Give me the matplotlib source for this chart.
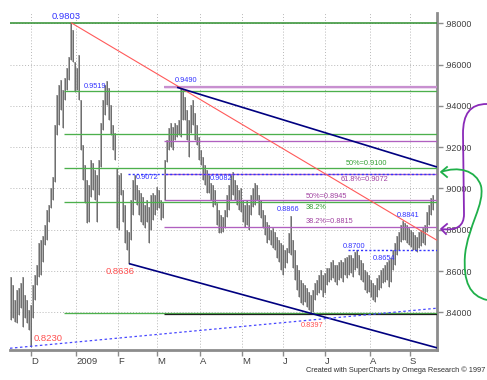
import matplotlib
matplotlib.use('Agg')
import matplotlib.pyplot as plt
from matplotlib.path import Path
from matplotlib.patches import PathPatch
from matplotlib.lines import Line2D
import numpy as np

plt.rcParams['font.family'] = ['Liberation Sans', 'DejaVu Sans']

# ---------------- data (daily bars, Nov 2008 - Sep 2009) ----------------
highs = [0.8571, 0.8532, 0.8460, 0.8508, 0.8518, 0.8542, 0.8571, 0.8484, 0.8460, 0.8411,
         0.8436, 0.8532, 0.8581, 0.8629, 0.8736, 0.8750, 0.8770, 0.8823, 0.8896, 0.8920,
         0.9002, 0.9056, 0.9307, 0.9453, 0.9501, 0.9525, 0.9477, 0.9535, 0.9584, 0.9637,
         0.9803, 0.9768, 0.9613, 0.9584, 0.9646, 0.9429, 0.9211, 0.9114, 0.9041, 0.9017,
         0.9138, 0.9123, 0.9089, 0.9065, 0.9138, 0.9317, 0.9429, 0.9501, 0.9519, 0.9487,
         0.9404, 0.9307, 0.9269, 0.9099, 0.9065, 0.9075, 0.8993, 0.8920, 0.8799, 0.8789,
         0.8944, 0.9041, 0.9065, 0.9017, 0.8993, 0.8978, 0.8959, 0.8920, 0.8944, 0.8910,
         0.8968, 0.8978, 0.8968, 0.9007, 0.8993, 0.8944, 0.8930, 0.9138, 0.9235, 0.9293,
         0.9317, 0.9298, 0.9317, 0.9307, 0.9332, 0.9490, 0.9477, 0.9443, 0.9380, 0.9332,
         0.9404, 0.9429, 0.9366, 0.9307, 0.9249, 0.9186, 0.9152, 0.9114, 0.9089, 0.9065,
         0.9027, 0.9017, 0.8993, 0.8930, 0.8896, 0.8871, 0.8862, 0.8896, 0.8968, 0.9017,
         0.9065, 0.9082, 0.9041, 0.9017, 0.8993, 0.9002, 0.8944, 0.8920, 0.8944, 0.8920,
         0.8968, 0.9002, 0.9027, 0.9017, 0.8968, 0.8944, 0.8896, 0.8871, 0.8838, 0.8823,
         0.8799, 0.8808, 0.8789, 0.8765, 0.8750, 0.8736, 0.8726, 0.8702, 0.8712, 0.8784,
         0.8866, 0.8750, 0.8702, 0.8629, 0.8605, 0.8557, 0.8542, 0.8532, 0.8518, 0.8498,
         0.8484, 0.8508, 0.8542, 0.8557, 0.8581, 0.8605, 0.8581, 0.8591, 0.8615, 0.8615,
         0.8644, 0.8654, 0.8629, 0.8629, 0.8644, 0.8654, 0.8644, 0.8663, 0.8668, 0.8678,
         0.8678, 0.8663, 0.8692, 0.8700, 0.8678, 0.8654, 0.8639, 0.8605, 0.8595, 0.8581,
         0.8557, 0.8542, 0.8532, 0.8566, 0.8581, 0.8605, 0.8615, 0.8629, 0.8644, 0.8654,
         0.8663, 0.8702, 0.8736, 0.8770, 0.8789, 0.8823, 0.8841, 0.8833, 0.8823, 0.8808,
         0.8799, 0.8789, 0.8775, 0.8765, 0.8789, 0.8799, 0.8808, 0.8823, 0.8886, 0.8920,
         0.8954, 0.8968]

lows = [0.8363, 0.8373, 0.8353, 0.8348, 0.8387, 0.8421, 0.8329, 0.8373, 0.8348, 0.8314,
        0.8230, 0.8373, 0.8460, 0.8532, 0.8571, 0.8581, 0.8644, 0.8726, 0.8750, 0.8838,
        0.8905, 0.8944, 0.9031, 0.9259, 0.9307, 0.9380, 0.9293, 0.9429, 0.9477, 0.9525,
        0.9622, 0.9613, 0.9467, 0.9477, 0.9429, 0.9186, 0.9041, 0.8930, 0.8833, 0.8838,
        0.8959, 0.8993, 0.8944, 0.8838, 0.8968, 0.9104, 0.9283, 0.9356, 0.9404, 0.9332,
        0.9259, 0.9186, 0.9138, 0.8808, 0.8799, 0.8968, 0.8838, 0.8736, 0.8702, 0.8636,
        0.8750, 0.8871, 0.8944, 0.8920, 0.8871, 0.8838, 0.8823, 0.8808, 0.8838, 0.8736,
        0.8799, 0.8847, 0.8871, 0.8896, 0.8905, 0.8847, 0.8857, 0.8944, 0.9128, 0.9186,
        0.9201, 0.9186, 0.9235, 0.9249, 0.9259, 0.9249, 0.9332, 0.9332, 0.9235, 0.9152,
        0.9269, 0.9307, 0.9235, 0.9211, 0.9138, 0.9114, 0.9041, 0.9017, 0.8978, 0.8978,
        0.8944, 0.8910, 0.8920, 0.8823, 0.8784, 0.8784, 0.8789, 0.8808, 0.8862, 0.8896,
        0.8944, 0.8968, 0.8944, 0.8920, 0.8896, 0.8886, 0.8838, 0.8813, 0.8823, 0.8799,
        0.8871, 0.8910, 0.8920, 0.8944, 0.8871, 0.8857, 0.8808, 0.8775, 0.8736, 0.8750,
        0.8726, 0.8712, 0.8702, 0.8663, 0.8644, 0.8605, 0.8581, 0.8615, 0.8639, 0.8687,
        0.8678, 0.8615, 0.8557, 0.8508, 0.8474, 0.8445, 0.8436, 0.8450, 0.8426, 0.8411,
        0.8397, 0.8402, 0.8460, 0.8484, 0.8494, 0.8508, 0.8474, 0.8494, 0.8532, 0.8547,
        0.8557, 0.8566, 0.8547, 0.8532, 0.8557, 0.8566, 0.8547, 0.8581, 0.8566, 0.8581,
        0.8591, 0.8571, 0.8605, 0.8615, 0.8581, 0.8557, 0.8547, 0.8508, 0.8494, 0.8498,
        0.8474, 0.8460, 0.8450, 0.8474, 0.8508, 0.8518, 0.8542, 0.8547, 0.8557, 0.8523,
        0.8547, 0.8605, 0.8629, 0.8678, 0.8702, 0.8741, 0.8750, 0.8750, 0.8736, 0.8726,
        0.8716, 0.8702, 0.8702, 0.8692, 0.8712, 0.8721, 0.8736, 0.8726, 0.8789, 0.8823,
        0.8871, 0.8896]

month_labels = ['D', '2009', 'F', 'M', 'A', 'M', 'J', 'J', 'A', 'S']
month_pos = [10, 32.5, 53.5, 73, 94.5, 115.5, 136, 157, 179.5, 199.5]
y_ticks = [0.84, 0.86, 0.88, 0.90, 0.92, 0.94, 0.96, 0.98]

# retracement levels (green: 0.9803 -> 0.8397 swing, purple: 0.9490 -> 0.8397 swing)
green_top = 0.9803
green_levels = [0.9471, 0.9266, 0.9100, 0.8934, 0.8399]
purple_levels = [0.9490, 0.9232, 0.9072, 0.8945, 0.8815]
black_level = 0.8393
blue_dot_levels = [(0.9072, 58.5), (0.8700, 168.5)]

# trend lines (bar index, price)
red_line = [(30, 0.9803), (213, 0.8749)]
navy_upper = [(83, 0.9490), (213, 0.9104)]
navy_lower = [(59, 0.8636), (213, 0.8228)]
blue_trend = [(-0.5, 0.8226), (213, 0.8420)]

# price labels: (text, x, y, colour, size)
labels = [
    ('0.9803', 27.5, 0.9835, '#3333ff', 6.8),
    ('0.9519', 42.0, 0.9496, '#3333ff', 5.3),
    ('0.9490', 87.3, 0.9525, '#3333ff', 5.3),
    ('0.9072', 67.8, 0.9051, '#3333ff', 5.3),
    ('0.9082', 104.8, 0.9050, '#3333ff', 5.3),
    ('0.8866', 138.3, 0.8896, '#3333ff', 5.3),
    ('0.8841', 198.3, 0.8867, '#3333ff', 5.3),
    ('0.8700', 171.5, 0.8718, '#3333ff', 5.3),
    ('0.8654', 186.5, 0.8662, '#3333ff', 5.3),
    ('0.8636', 54.5, 0.8597, '#ff5050', 6.8),
    ('0.8230', 18.5, 0.8274, '#ff5050', 6.8),
    ('0.8397', 150.3, 0.8335, '#ff5050', 5.3),
    ('50%=0.9100', 177.8, 0.9122, '#33a033', 5.3),
    ('38.2%', 152.5, 0.8907, '#33a033', 5.3),
    ('61.8%=0.9072', 176.8, 0.9041, '#a040a0', 5.3),
    ('50%=0.8945', 157.5, 0.8963, '#a040a0', 5.3),
    ('38.2%=0.8815', 159.5, 0.8839, '#a040a0', 5.3),
]

# ---------------- figure ----------------
W, H = 487, 380
fig = plt.figure(figsize=(W / 100, H / 100), dpi=100)
fig.patch.set_facecolor('white')
ax = fig.add_axes([10 / W, 30 / H, 427 / W, 337 / H])
ax.set_xlim(-0.5, 213)
ax.set_ylim(0.82175, 0.98499)

x = np.arange(len(highs))
ax.vlines(x, lows, highs, color='#a0a0a0', lw=1.2, zorder=3)
ax.vlines(x, lows, highs, color='#4a4a4a', lw=0.45, zorder=3)

xmax = 213
GREEN = '#4cb04c'
PURPLE = '#b060c0'
ax.hlines(green_top, -0.5, xmax, color='#2f8f2f', lw=1.1, zorder=4)
for lv in green_levels:
    ax.hlines(lv, 26.5, xmax, color=GREEN, lw=0.95, zorder=4)
for lv in purple_levels:
    ax.hlines(lv, 76.5, xmax, color=PURPLE, lw=0.95, zorder=4)
ax.hlines(purple_levels[0], 76.5, xmax, color='#c890d0', lw=1.6, zorder=4)
ax.hlines(black_level, 76.5, xmax, color='#202020', lw=0.9, zorder=4)
for lv, x0 in blue_dot_levels:
    ax.hlines(lv, x0, xmax, color='#3333ff', lw=1.0, linestyles=(0, (1.5, 1.5)), zorder=5)

for seg, col, lw, ls in [(red_line, '#ff5a5a', 0.8, '-'),
                         (navy_upper, '#000080', 1.2, '-'),
                         (navy_lower, '#000080', 1.2, '-'),
                         (blue_trend, '#4848ff', 0.9, (0, (2, 2)))]:
    ax.plot([seg[0][0], seg[1][0]], [seg[0][1], seg[1][1]], color=col, lw=lw,
            linestyle=ls, zorder=5, solid_capstyle='butt')

for t, lx, ly, c, s in labels:
    ax.text(lx, ly, t, color=c, fontsize=s, ha='center', va='center', zorder=6)

# axes styling
for sp in ['left', 'top']:
    ax.spines[sp].set_visible(False)
for sp in ['right', 'bottom']:
    ax.spines[sp].set_color('#8c8c8c')
    ax.spines[sp].set_linewidth(2)
ax.yaxis.tick_right()
ax.set_yticks(y_ticks)
ax.set_yticklabels(['.%05d' % int(round(v * 100000)) for v in y_ticks])
ax.set_xticks(month_pos)
ax.set_xticklabels(month_labels, ha='left')
ax.tick_params(axis='y', length=4, width=1, color='#8c8c8c', labelsize=6.4,
               labelcolor='#404040', pad=1)
ax.tick_params(axis='x', length=4, width=1, color='#8c8c8c', labelsize=6.8,
               labelcolor='#404040', pad=1)
ax.grid(True, color='#b8b8b8', lw=0.7, linestyle=(0, (1, 2)), zorder=0)
ax.set_axisbelow(True)

fig.text(485 / W, 1 - 370 / H, 'Created with SuperCharts by Omega Research \u00a9 1997',
         fontsize=5.3, color='#303030', ha='right', va='center')

# ---------------- hand-drawn arrows on the right margin ----------------
def fp(px, py):
    return (px / W, 1 - py / H)

def draw_curve(verts, codes, col):
    p = Path([fp(*v) for v in verts], codes)
    fig.add_artist(PathPatch(p, transform=fig.transFigure, fill=False,
                             edgecolor=col, lw=1.3, clip_on=False))

def arrow_head(tip, a, b, col):
    xs, ys = zip(*[fp(*a), fp(*tip), fp(*b)])
    fig.add_artist(Line2D(xs, ys, transform=fig.transFigure, color=col, lw=1.3))

PC = '#8a2ab8'
draw_curve([(487, 104), (470, 104), (463, 114), (463, 134), (464, 214),
            (464, 226), (457, 231), (441, 229)],
           [Path.MOVETO, Path.CURVE4, Path.CURVE4, Path.CURVE4, Path.LINETO,
            Path.CURVE4, Path.CURVE4, Path.CURVE4], PC)
arrow_head((441, 229), (447, 224), (446, 234), PC)

GC = '#1fb04a'
draw_curve([(441, 172), (458, 166), (476, 170), (481, 186),
            (485, 204), (468, 226), (465, 255),
            (463, 282), (470, 296), (487, 300)],
           [Path.MOVETO, Path.CURVE4, Path.CURVE4, Path.CURVE4,
            Path.CURVE4, Path.CURVE4, Path.CURVE4,
            Path.CURVE4, Path.CURVE4, Path.CURVE4], GC)
arrow_head((441, 172), (447, 167), (447, 177), GC)

fig.savefig('out.png', dpi=100, facecolor='white')
